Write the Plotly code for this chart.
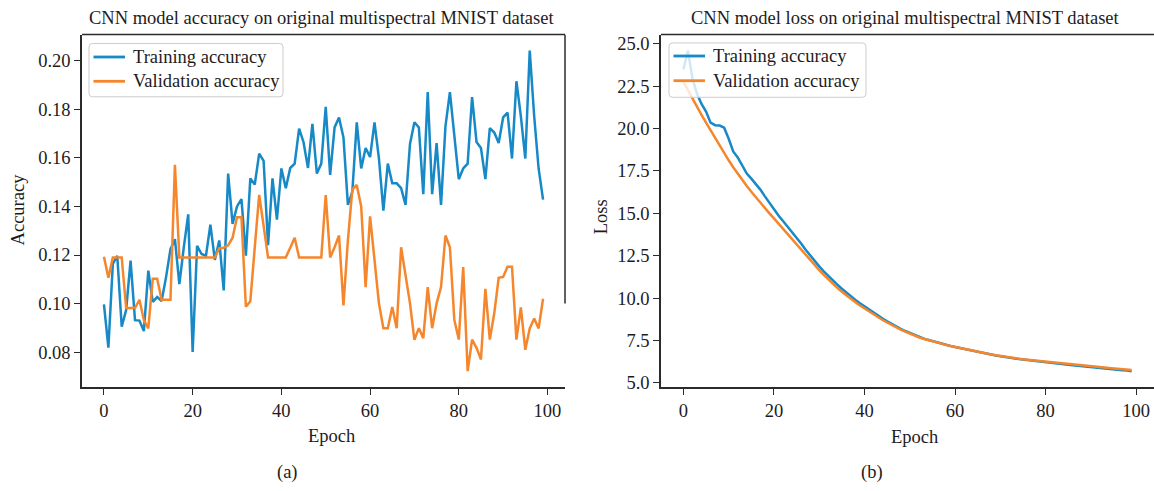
import plotly.graph_objects as go

epochs = list(range(100))

train_acc = [
    0.0997, 0.0819, 0.1163, 0.1197, 0.0905, 0.0973, 0.1177, 0.0932, 0.0930, 0.0887,
    0.1136, 0.1007, 0.1027, 0.1011, 0.1109, 0.1224, 0.1265, 0.1080, 0.1231, 0.1367,
    0.0801, 0.1238, 0.1204, 0.1197, 0.1325, 0.1180, 0.1260, 0.1054, 0.1535, 0.1328,
    0.1400, 0.1430, 0.1197, 0.1515, 0.1490, 0.1617, 0.1587, 0.1240, 0.1515, 0.1346,
    0.1556, 0.1475, 0.1558, 0.1576, 0.1720, 0.1664, 0.1558, 0.1740, 0.1535, 0.1576,
    0.1810, 0.1530, 0.1725, 0.1766, 0.1684, 0.1406, 0.1460, 0.1746, 0.1556, 0.1640,
    0.1603, 0.1746, 0.1597, 0.1383, 0.1576, 0.1495, 0.1495, 0.1475, 0.1406, 0.1657,
    0.1746, 0.1725, 0.1450, 0.1870, 0.1450, 0.1660, 0.1406, 0.1730, 0.1870, 0.1690,
    0.1512, 0.1556, 0.1576, 0.1850, 0.1665, 0.1640, 0.1512, 0.1722, 0.1704, 0.1661,
    0.1766, 0.1786, 0.1597, 0.1915, 0.1770, 0.1597, 0.2041, 0.1772, 0.1556, 0.1428,
]

val_acc = [
    0.1193, 0.1106, 0.1190, 0.1190, 0.1190, 0.0982, 0.0982, 0.0982, 0.1016, 0.0932,
    0.0898, 0.1102, 0.1102, 0.1016, 0.1016, 0.1016, 0.1571, 0.1190, 0.1190, 0.1190,
    0.1190, 0.1190, 0.1190, 0.1190, 0.1190, 0.1190, 0.1228, 0.1230, 0.1240, 0.1271,
    0.1355, 0.1355, 0.0987, 0.1010, 0.1230, 0.1447, 0.1320, 0.1190, 0.1190, 0.1190,
    0.1190, 0.1190, 0.1230, 0.1271, 0.1190, 0.1190, 0.1190, 0.1190, 0.1190, 0.1190,
    0.1447, 0.1190, 0.1232, 0.1280, 0.0993, 0.1260, 0.1470, 0.1488, 0.1400, 0.1068,
    0.1359, 0.1180, 0.1001, 0.0899, 0.0899, 0.0986, 0.0899, 0.1232, 0.1110, 0.1001,
    0.0851, 0.0899, 0.0858, 0.1068, 0.0899, 0.1001, 0.1068, 0.1280, 0.1232, 0.0933,
    0.0852, 0.1150, 0.0722, 0.0852, 0.0818, 0.0770, 0.1061, 0.0852, 0.0960, 0.1106,
    0.1110, 0.1152, 0.1152, 0.0852, 0.0984, 0.0810, 0.0898, 0.0939, 0.0898, 0.1020,
]

train_loss = [
    23.50, 24.60, 22.95, 22.05, 21.45, 21.00, 20.35, 20.20, 20.18, 20.05,
    19.40, 18.65, 18.30, 17.80, 17.35, 17.05, 16.75, 16.40, 16.00, 15.60,
    15.20, 14.87, 14.55, 14.22, 13.92, 13.58, 13.22, 12.85, 12.50, 12.18,
    11.87, 11.58, 11.30, 11.04, 10.79, 10.55, 10.32, 10.10, 9.89, 9.69,
    9.50, 9.31, 9.13, 8.96, 8.79, 8.63, 8.47, 8.32, 8.19, 8.06,
    7.94, 7.82, 7.72, 7.62, 7.54, 7.46, 7.38, 7.31, 7.24, 7.18,
    7.12, 7.06, 6.99, 6.93, 6.875, 6.82, 6.77, 6.72, 6.67, 6.62,
    6.57, 6.53, 6.49, 6.45, 6.41, 6.375, 6.34, 6.31, 6.28, 6.25,
    6.22, 6.19, 6.16, 6.13, 6.10, 6.07, 6.04, 6.01, 5.98, 5.955,
    5.93, 5.90, 5.875, 5.85, 5.825, 5.80, 5.775, 5.75, 5.725, 5.69,
]

val_loss = [
    22.75, 22.25, 21.76, 21.28, 20.81, 20.35, 19.89, 19.44, 19.00, 18.56,
    18.13, 17.72, 17.33, 16.96, 16.61, 16.27, 15.94, 15.62, 15.31, 15.00,
    14.70, 14.39, 14.08, 13.77, 13.46, 13.15, 12.85, 12.55, 12.25, 11.95,
    11.65, 11.37, 11.10, 10.85, 10.61, 10.38, 10.16, 9.95, 9.75, 9.56,
    9.38, 9.20, 9.03, 8.87, 8.71, 8.56, 8.41, 8.27, 8.14, 8.02,
    7.90, 7.79, 7.69, 7.60, 7.52, 7.44, 7.37, 7.30, 7.24, 7.18,
    7.12, 7.06, 7.00, 6.94, 6.885, 6.83, 6.78, 6.73, 6.68, 6.63,
    6.585, 6.545, 6.505, 6.47, 6.435, 6.40, 6.37, 6.34, 6.31, 6.28,
    6.25, 6.22, 6.19, 6.16, 6.13, 6.103, 6.076, 6.051, 6.026, 6.001,
    5.976, 5.951, 5.926, 5.901, 5.876, 5.852, 5.828, 5.804, 5.780, 5.756,
]

epoch_ticks = [0, 20, 40, 60, 80, 100]
acc_ticks = [0.08, 0.10, 0.12, 0.14, 0.16, 0.18, 0.20]
loss_ticks = [5.0, 7.5, 10.0, 12.5, 15.0, 17.5, 20.0, 22.5, 25.0]

legend_labels = ["Training accuracy", "Validation accuracy"]
title_a = "CNN model accuracy on original multispectral MNIST dataset"
title_b = "CNN model loss on original multispectral MNIST dataset"

W, H = 1154, 491
FONT = "Liberation Serif"
FS = 18.5
TXT = "#1e1b1c"
AX = "#2b2b2b"
BLUE = "#1689c6"
ORANGE = "#f5862c"
COLORS = [BLUE, ORANGE]
LW = 2.5


def mpl_range(vals):
    lo, hi = min(vals), max(vals)
    pad = (hi - lo) * 0.05
    return [lo - pad, hi + pad]


def px_x(p):
    return p / W


def px_y(p):
    return 1 - p / H


xr = mpl_range(epochs)
yr_acc = mpl_range(train_acc + val_acc)
yr_loss = mpl_range(train_loss + val_loss)

fig = go.Figure()
for ys, c, nm in [(train_acc, BLUE, legend_labels[0]), (val_acc, ORANGE, legend_labels[1])]:
    fig.add_trace(go.Scatter(x=epochs, y=ys, mode="lines", name=nm,
                             line=dict(color=c, width=LW), xaxis="x", yaxis="y"))
for ys, c, nm in [(train_loss, BLUE, legend_labels[0]), (val_loss, ORANGE, legend_labels[1])]:
    fig.add_trace(go.Scatter(x=epochs, y=ys, mode="lines", name=nm,
                             line=dict(color=c, width=LW), xaxis="x2", yaxis="y2"))

tickfont = dict(family=FONT, size=FS, color=TXT)
common = dict(showgrid=False, zeroline=False, showline=True, linecolor=AX, linewidth=1.5,
              ticks="outside", ticklen=6, tickwidth=1.2, tickcolor=AX, tickfont=tickfont)

ydom = [px_y(392), px_y(35)]
fig.update_layout(
    width=W, height=H, autosize=False,
    margin=dict(l=0, r=0, t=0, b=0),
    paper_bgcolor="white", plot_bgcolor="white",
    showlegend=False,
    xaxis=dict(domain=[px_x(82), px_x(565)], range=xr, anchor="y", tickvals=epoch_ticks, **common),
    yaxis=dict(domain=ydom, range=yr_acc, anchor="x", tickvals=acc_ticks, tickformat=".2f", **common),
    xaxis2=dict(domain=[px_x(661), 1.0], range=xr, anchor="y2", tickvals=epoch_ticks, **common),
    yaxis2=dict(domain=ydom, range=yr_loss, anchor="x2", tickvals=loss_ticks, tickformat=".1f", **common),
)

# remaining spines
fig.add_shape(type="line", xref="x domain", yref="y domain", x0=0, x1=1, y0=1, y1=1,
              line=dict(color=AX, width=1.5))
fig.add_shape(type="line", xref="x domain", yref="y", x0=1, x1=1, y0=acc_ticks[1], y1=yr_acc[1],
              line=dict(color=AX, width=1.5))
fig.add_shape(type="line", xref="x2 domain", yref="y2 domain", x0=0, x1=1, y0=1, y1=1,
              line=dict(color=AX, width=1.5))


def label(text, x, y, angle=0, anchor="center"):
    fig.add_annotation(text=text, x=px_x(x), y=px_y(y), xref="paper", yref="paper",
                       xanchor=anchor, yanchor="middle", showarrow=False, textangle=angle,
                       font=dict(family=FONT, size=FS, color=TXT))


def rounded_box(x0, y0, x1, y1, r):
    pts = [
        ("M", (x0 + r, y0)), ("L", (x1 - r, y0)), ("Q", (x1, y0), (x1, y0 + r)),
        ("L", (x1, y1 - r)), ("Q", (x1, y1), (x1 - r, y1)), ("L", (x0 + r, y1)),
        ("Q", (x0, y1), (x0, y1 - r)), ("L", (x0, y0 + r)), ("Q", (x0, y0), (x0 + r, y0)),
    ]
    out = []
    for item in pts:
        cmd = item[0]
        coords = " ".join(f"{px_x(p[0]):.5f},{px_y(p[1]):.5f}" for p in item[1:])
        out.append(f"{cmd}{coords}")
    return " ".join(out) + " Z"


def legend_box(x0, y0, x1, y1, sample_x0, sample_x1, text_x, rows):
    fig.add_shape(type="path", xref="paper", yref="paper", path=rounded_box(x0, y0, x1, y1, 3.5),
                  fillcolor="rgba(255,255,255,0.8)", line=dict(color="#cccccc", width=1), layer="above")
    for lab, col, ry in zip(legend_labels, COLORS, rows):
        fig.add_shape(type="line", xref="paper", yref="paper", x0=px_x(sample_x0), x1=px_x(sample_x1),
                      y0=px_y(ry), y1=px_y(ry), line=dict(color=col, width=LW + 0.3), layer="above")
        label(lab, text_x, ry, anchor="left")


legend_box(89, 44, 283, 98, 93.5, 125, 130.5, [57.7, 82.3])
legend_box(669, 43.5, 866, 98.5, 673.5, 705, 711, [56.7, 81.7])

label(title_a, 321, 18)
label(title_b, 905, 18)
label("Accuracy", 18, 212, -90)
label("Loss", 601, 220, -90)
label("Epoch", 331, 441)
label("Epoch", 914, 442)
label("(a)", 287, 478)
label("(b)", 872, 478)

fig.write_html("out.html", config={"displayModeBar": False},
               post_script="document.body.style.margin='0px';")
